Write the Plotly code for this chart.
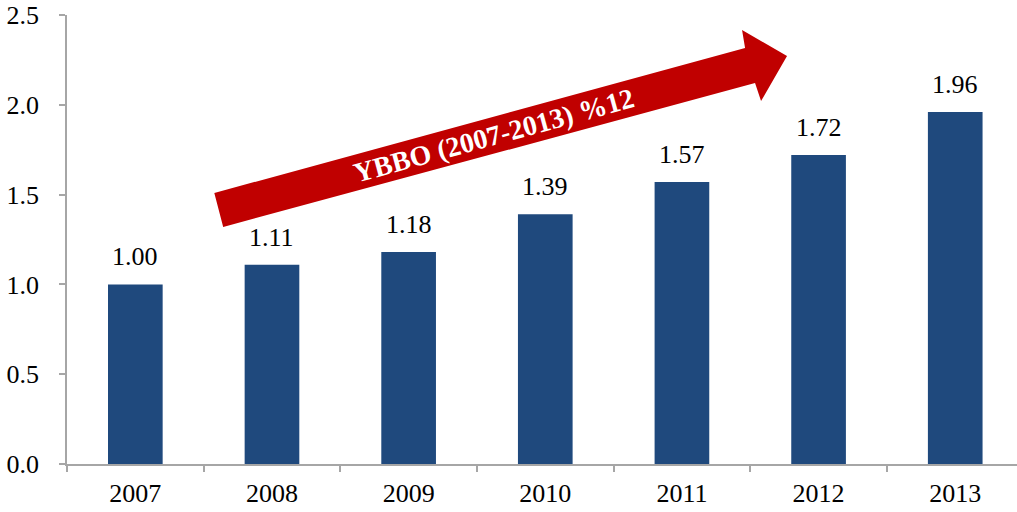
import plotly.graph_objects as go

# data
years = ["2007", "2008", "2009", "2010", "2011", "2012", "2013"]
values = [1.00, 1.11, 1.18, 1.39, 1.57, 1.72, 1.96]
y_ticks = [0.0, 0.5, 1.0, 1.5, 2.0, 2.5]
arrow_label = "YBBO (2007-2013) %12"

FONT = "Liberation Serif, Times New Roman, serif"
BAR = "#1F497D"
RED = "#C00000"
AXIS = "#A6A6A6"

fig = go.Figure()
fig.add_trace(
    go.Bar(
        x=years,
        y=values,
        marker_color=BAR,
        marker_line_width=0,
    )
)

# value labels above the bars (x as category index, "2007" would be read as a number)
for i, v in enumerate(values):
    fig.add_annotation(
        x=i, y=v, xref="x", yref="y", text=f"{v:.2f}",
        showarrow=False, yanchor="bottom", yshift=11,
        font=dict(family=FONT, size=26, color="black"),
    )

# red trend arrow, in axis units (category index / value)
arrow_path = (
    "M 0.578 1.509 L 4.462 2.316 L 4.440 2.416 L 4.769 2.272 "
    "L 4.579 2.021 L 4.535 2.121 L 0.643 1.320 Z"
)
fig.add_shape(type="path", path=arrow_path, xref="x", yref="y",
              fillcolor=RED, line_width=0, layer="above")
fig.add_annotation(
    x=2.62, y=1.83, xref="x", yref="y", text=f"<b>{arrow_label}</b>",
    showarrow=False, textangle=-15.3,
    font=dict(family=FONT, size=28, color="white"),
)

fig.update_layout(
    width=1017,
    height=512,
    margin=dict(l=67, r=0, t=15, b=48),
    paper_bgcolor="white",
    plot_bgcolor="white",
    bargap=0.6,
    showlegend=False,
    font=dict(family=FONT, size=26, color="black"),
)
fig.update_xaxes(
    type="category",
    range=[-0.5, 6.452],
    automargin=False,
    showline=True, linecolor=AXIS, linewidth=1.5,
    ticks="outside", tickson="boundaries", ticklen=6, tickcolor=AXIS, tickwidth=1.5,
    showgrid=False, zeroline=False,
    tickfont=dict(family=FONT, size=26),
    ticklabelstandoff=5,
    ticklabeloverflow="allow",
)
fig.update_yaxes(
    range=[0, 2.5],
    automargin=False,
    tickvals=y_ticks,
    ticktext=[f"{t:.1f}" for t in y_ticks],
    showline=True, linecolor=AXIS, linewidth=1.5,
    ticks="outside", ticklen=6, tickcolor=AXIS, tickwidth=1.5,
    showgrid=False, zeroline=False,
    tickfont=dict(family=FONT, size=26),
    ticklabelstandoff=15,
    ticklabeloverflow="allow",
)

# drop the default 8px page margin so the figure fills the window
fig.write_html(
    "out.html",
    config={"displayModeBar": False},
    post_script="document.body.style.margin = '0';",
)
